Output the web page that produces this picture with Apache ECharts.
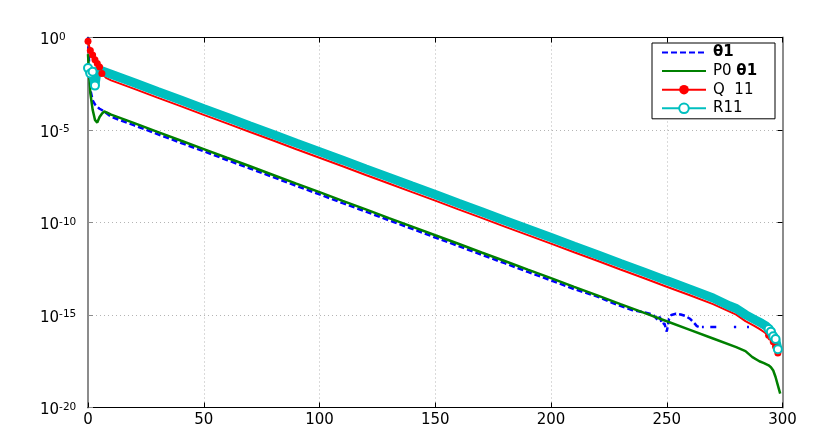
<!DOCTYPE html>
<html>
<head>
<meta charset="utf-8">
<script src="https://cdn.jsdelivr.net/npm/echarts@6/dist/echarts.min.js"></script>
<style>
html,body{margin:0;padding:0;background:#fff;}
#c{width:830px;height:443px;}
</style>
</head>
<body>
<div id="c"></div>
<script>
// ---- data (y values are log10 exponents) ----
const seriesNames = ['θ1', 'P0 θ1', 'Q  11', 'R11'];
const xTicks = [0, 50, 100, 150, 200, 250, 300];
const yTickExponents = [0, -5, -10, -15, -20];

const thetaX = [0,1,2,3,4,5,6,7,8,10,20,30,40,50,60,70,80,90,100,110,120,130,140,150,160,170,180,190,200,210,220,227,235,240,244,246,247,248,249,250,251,252,254,256,258,260,262,263,264,264.6,265.2,266,266.6,268.8,271.4,272,279,280,280.5,284.7,285.5];
const thetaY = [0,-2.8,-3.4,-3.62,-3.75,-3.85,-3.92,-4.0,-4.1,-4.29,-4.75,-5.22,-5.69,-6.15,-6.62,-7.08,-7.55,-8.02,-8.48,-8.95,-9.41,-9.88,-10.34,-10.81,-11.27,-11.74,-12.2,-12.67,-13.13,-13.6,-14.0,-14.37,-14.73,-14.85,-14.98,-15.25,-15.1,-15.5,-15.45,-15.9,-15.2,-15.0,-14.93,-14.97,-15.05,-15.2,-15.45,-15.6,-15.65,null,-15.65,-15.65,null,-15.65,-15.65,null,-15.65,-15.65,null,-15.65,-15.65];

const p0X = [0,1,2,3,4,5,6,7,8,10,20,30,40,50,60,70,80,90,100,110,120,130,140,150,160,170,180,190,200,210,220,230,240,250,260,270,280,284,287,290,292,294,295,296,297,298,299];
const p0Y = [-0.9,-3.0,-3.9,-4.45,-4.6,-4.3,-4.12,-4.0,-4.05,-4.17,-4.63,-5.1,-5.57,-6.03,-6.5,-6.96,-7.43,-7.9,-8.36,-8.83,-9.29,-9.76,-10.22,-10.69,-11.15,-11.62,-12.08,-12.55,-13.01,-13.48,-13.94,-14.41,-14.87,-15.34,-15.8,-16.27,-16.74,-16.95,-17.28,-17.5,-17.6,-17.72,-17.82,-18.0,-18.35,-18.8,-19.25];

const qX = [0,1,2,3,4,5,6,8,10,20,30,40,50,60,70,80,90,100,110,120,130,140,150,160,170,180,190,200,210,220,230,240,250,260,270,280,284,288,290,292,294,295,296,297,298];
const qY = [-0.2,-0.7,-0.95,-1.2,-1.4,-1.6,-1.95,-2.2,-2.32,-2.78,-3.25,-3.71,-4.18,-4.64,-5.11,-5.57,-6.04,-6.5,-6.96,-7.43,-7.89,-8.36,-8.82,-9.29,-9.75,-10.22,-10.68,-11.14,-11.61,-12.07,-12.54,-13.0,-13.47,-13.93,-14.41,-14.98,-15.33,-15.6,-15.75,-15.92,-16.1,-16.2,-16.45,-16.7,-17.05];

const rX = [0,1,2,3,4,5,10,20,30,40,50,60,70,80,90,100,110,120,130,140,150,160,170,180,190,200,210,220,230,240,250,260,270,277,280,284,288,291,293,294,295,296,297,298];
const rY = [-1.65,-1.95,-1.85,-2.6,-1.72,-1.76,-1.99,-2.45,-2.92,-3.38,-3.85,-4.31,-4.78,-5.24,-5.71,-6.17,-6.63,-7.1,-7.56,-8.03,-8.49,-8.96,-9.42,-9.89,-10.35,-10.81,-11.28,-11.74,-12.21,-12.67,-13.14,-13.6,-14.08,-14.5,-14.65,-14.98,-15.25,-15.45,-15.6,-15.75,-15.9,-16.15,-16.3,-16.85];

// ---- build ----
function pairs(xs, ys) {
  return xs.map((x, i) => ys[i] === null ? [x, '-'] : [x, Math.pow(10, ys[i])]);
}
const FONT = 'DejaVu Sans, Liberation Sans, Arial, sans-serif';
const chart = echarts.init(document.getElementById('c'), null, {renderer: 'canvas'});

const gridLine = {show: true, lineStyle: {color: '#b4b4b4', type: [1, 3], width: 1}};

const option = {
  backgroundColor: '#ffffff',
  animation: false,
  grid: {left: 88, right: 47.5, top: 37.5, bottom: 35.5},
  legend: {
    orient: 'vertical',
    left: 652,
    top: 43,
    backgroundColor: '#ffffff',
    borderColor: '#000000',
    borderWidth: 1,
    borderRadius: 0,
    padding: [2, 4, 3, 9],
    itemWidth: 44,
    itemHeight: 12,
    itemGap: 3.6,
    data: [
      {name: seriesNames[0], itemStyle: {opacity: 0}},
      {name: seriesNames[1], itemStyle: {opacity: 0}},
      {name: seriesNames[2]},
      {name: seriesNames[3]}
    ],
    formatter: function (name) {
      return name.replace('θ1', '{t|θ1}');
    },
    textStyle: {
      fontFamily: FONT, fontSize: 15, color: '#000', width: 58, lineHeight: 12, padding: [0, 0, 0, 2],
      rich: {t: {fontFamily: FONT, fontSize: 15, fontWeight: 'bold', color: '#000', lineHeight: 12}}
    }
  },
  xAxis: [{
    type: 'value', min: 0, max: 300, interval: 50, position: 'bottom',
    axisLine: {show: true, onZero: false, lineStyle: {color: '#000', width: 1.2}},
    axisTick: {show: true, inside: true, length: 5, lineStyle: {color: '#000'}},
    axisLabel: {fontFamily: FONT, fontSize: 15, color: '#000', margin: 5,
      customValues: xTicks},
    splitLine: gridLine
  }, {
    type: 'value', min: 0, max: 300, interval: 50, position: 'top',
    axisLine: {show: true, onZero: false, lineStyle: {color: '#000', width: 1.2}},
    axisTick: {show: true, inside: true, length: 5, lineStyle: {color: '#000'}},
    axisLabel: {show: false},
    splitLine: {show: false}
  }],
  yAxis: [{
    type: 'log', logBase: 10, min: 1e-20, max: 1, interval: 5, position: 'left',
    axisLine: {show: true, onZero: false, lineStyle: {color: '#8c8c8c', width: 2}},
    axisTick: {show: true, inside: true, length: 5, lineStyle: {color: '#8c8c8c'}},
    axisLabel: {
      align: 'left', margin: 48, color: '#000', padding: [6, 0, 0, 0],
      formatter: function (v) {
        const e = Math.round(Math.log10(v));
        if (yTickExponents.indexOf(e) < 0) return '';
        return '{b|10}{s|' + e + '}';
      },
      rich: {
        b: {fontFamily: FONT, fontSize: 15, color: '#000', lineHeight: 18},
        s: {fontFamily: FONT, fontSize: 10.5, color: '#000', verticalAlign: 'top', lineHeight: 18, padding: [0, 0, 10, 0]}
      }
    },
    splitLine: gridLine
  }, {
    type: 'log', logBase: 10, min: 1e-20, max: 1, interval: 5, position: 'right',
    axisLine: {show: true, onZero: false, lineStyle: {color: '#8c8c8c', width: 2}},
    axisTick: {show: true, inside: true, length: 5, lineStyle: {color: '#000'}},
    axisLabel: {show: false},
    splitLine: {show: false}
  }],
  series: [
    {
      name: seriesNames[0], type: 'line', data: pairs(thetaX, thetaY),
      symbol: 'none', clip: false, connectNulls: false,
      lineStyle: {color: '#0000ff', width: 2.5, type: [6, 3]},
      itemStyle: {color: '#0000ff'}
    },
    {
      name: seriesNames[1], type: 'line', data: pairs(p0X, p0Y),
      symbol: 'none', clip: false,
      lineStyle: {color: '#008000', width: 2.5},
      itemStyle: {color: '#008000'}
    },
    {
      name: seriesNames[2], type: 'line', data: pairs(qX, qY),
      symbol: 'circle', showAllSymbol: true, clip: false,
      symbolSize: function (v) { return (v[0] <= 6 || v[0] >= 294) ? 7 : 0; },
      lineStyle: {color: '#ff0000', width: 2},
      itemStyle: {color: '#ff0000'}
    },
    {
      name: seriesNames[3], type: 'line', data: pairs(rX, rY),
      symbol: 'emptyCircle', showAllSymbol: true, clip: false,
      symbolSize: function (v) { return (v[0] <= 3 || v[0] >= 294) ? 8 : 0; },
      lineStyle: {color: '#00bfbf', width: 9},
      itemStyle: {color: '#00bfbf', borderColor: '#00bfbf', borderWidth: 2}
    }
  ]
};
chart.setOption(option);
</script>
</body>
</html>
